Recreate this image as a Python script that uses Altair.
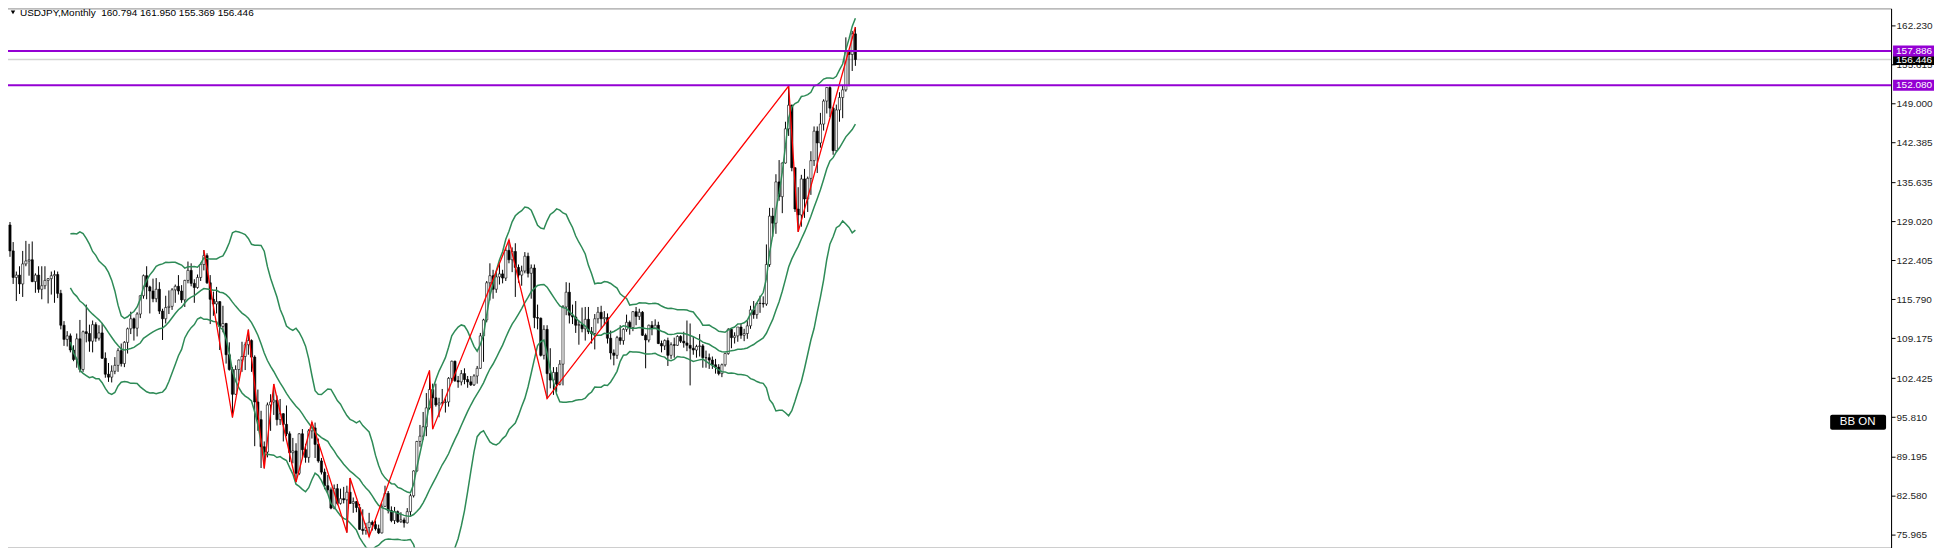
import altair as alt
import pandas as pd

# ---------------- data (USDJPY monthly, May 2002 .. Jul 2024) ----------------
first_open = 128.4

highs = [
    128.9, 125.5, 120.5, 121.4, 124.0, 125.7, 125.2, 125.6,                      # 2002 May-Dec
    120.2, 121.4, 121.4, 121.4, 119.4, 120.5, 120.7, 120.5, 117.4, 112.1, 110.4, 110.0,  # 2003
    108.0, 110.0, 112.3, 110.5, 114.9, 111.5, 112.2, 111.9, 111.4, 111.8, 106.8, 105.0,  # 2004
    104.6, 106.0, 107.5, 108.3, 108.7, 111.0, 113.7, 112.7, 113.6, 116.5, 120.0, 121.4,  # 2005
    118.1, 119.3, 119.4, 118.7, 114.2, 116.4, 117.3, 117.7, 118.3, 119.9, 118.2, 119.1,  # 2006
    122.2, 121.9, 119.2, 120.0, 122.0, 124.14, 123.6, 119.9, 117.1, 117.9, 115.5, 114.7,  # 2007
    111.8, 108.5, 104.3, 104.6, 105.6, 108.6, 108.5, 110.66, 109.0, 106.3, 100.5, 96.9,  # 2008
    91.7, 98.3, 99.7, 101.44, 99.5, 98.9, 96.5, 97.8, 93.4, 92.3, 91.4, 93.1,           # 2009
    93.8, 91.3, 93.8, 94.98, 94.9, 92.2, 88.9, 87.1, 86.0, 83.9, 84.4, 84.5,            # 2010
    83.7, 84.0, 84.2, 85.51, 82.2, 81.6, 81.1, 80.2, 77.9, 79.6, 78.3, 78.3,            # 2011
    77.6, 81.2, 84.2, 83.3, 80.7, 80.6, 80.0, 79.7, 78.8, 80.4, 82.8, 86.8,             # 2012
    91.8, 94.5, 96.7, 99.9, 103.73, 101.5, 101.5, 99.1, 100.6, 99.0, 102.6, 105.4,      # 2013
    105.4, 102.8, 103.8, 104.1, 102.8, 102.8, 103.1, 104.5, 110.1, 112.5, 118.9, 121.9,  # 2014
    120.8, 120.5, 122.0, 120.8, 124.5, 125.86, 124.6, 125.3, 121.7, 121.5, 123.8, 123.7,  # 2015
    121.7, 121.7, 114.9, 112.7, 111.4, 111.4, 107.5, 104.3, 104.3, 105.5, 114.8, 118.7,  # 2016
    118.6, 114.9, 115.5, 112.2, 114.4, 114.5, 114.5, 111.1, 113.3, 114.5, 114.7, 113.8,  # 2017
    113.4, 110.5, 107.3, 109.6, 111.4, 110.9, 113.2, 112.2, 113.8, 114.5, 114.2, 113.8,  # 2018
    110.0, 111.5, 112.1, 112.4, 112.0, 108.8, 109.0, 109.3, 108.5, 109.3, 109.7, 109.7,  # 2019
    110.3, 112.2, 111.7, 109.4, 108.1, 109.9, 108.2, 107.1, 106.6, 106.1, 105.7, 104.8,  # 2020
    104.9, 106.7, 110.9, 110.9, 110.2, 111.1, 111.7, 110.8, 112.1, 114.7, 115.5, 115.2,  # 2021
    116.4, 116.3, 125.1, 131.3, 131.3, 137.0, 139.4, 139.0, 145.9, 151.95, 148.8, 138.2,  # 2022
    134.8, 136.9, 137.9, 136.6, 140.9, 145.1, 145.1, 147.4, 149.7, 151.7, 151.9, 148.4,  # 2023
    148.8, 150.9, 151.97, 160.2, 157.9, 161.3, 161.95,                                  # 2024 Jan-Jul
]

lows = [
    123.0, 118.4, 115.5, 116.7, 116.2, 121.4, 119.8, 118.7,
    116.9, 116.9, 115.8, 117.5, 115.1, 116.6, 115.2, 116.0, 110.7, 107.9, 107.8, 106.8,
    105.3, 104.2, 103.4, 103.5, 108.5, 106.9, 106.8, 108.6, 108.8, 105.7, 102.5, 101.8,
    101.7, 103.1, 103.5, 104.4, 104.3, 106.6, 109.9, 108.8, 109.5, 112.6, 115.9, 115.8,
    113.4, 115.3, 115.3, 113.3, 108.9, 111.7, 113.3, 114.0, 115.2, 116.6, 115.2, 114.5,
    118.5, 118.0, 115.2, 117.6, 118.9, 120.7, 118.4, 111.6, 113.0, 113.4, 107.2, 110.2,
    104.9, 103.7, 95.76, 99.6, 102.0, 103.5, 103.8, 106.4, 103.5, 90.9, 93.5, 87.2,
    87.13, 89.0, 93.5, 96.2, 94.4, 94.5, 91.7, 92.6, 88.2, 88.0, 84.82, 86.0,
    88.9, 88.1, 88.1, 92.2, 88.9, 88.1, 86.1, 83.6, 82.9, 80.2, 80.2, 80.9,
    81.0, 81.2, 76.25, 81.1, 79.6, 79.7, 76.7, 75.9, 75.9, 75.56, 76.6, 76.6,
    76.0, 76.1, 80.6, 79.5, 78.0, 77.7, 77.9, 77.9, 77.1, 77.8, 79.1, 82.2,
    86.5, 90.8, 92.0, 92.6, 97.1, 93.79, 97.6, 95.8, 97.8, 96.6, 97.6, 101.6,
    101.8, 100.8, 101.2, 101.4, 100.8, 101.1, 101.1, 101.5, 104.0, 105.2, 111.9, 115.6,
    115.9, 116.9, 118.3, 118.5, 118.9, 121.9, 120.4, 116.2, 118.6, 118.1, 120.2, 119.5,
    115.9, 110.9, 110.7, 106.1, 105.6, 98.97, 100.7, 99.6, 100.1, 101.2, 101.2, 113.1,
    111.7, 111.6, 110.1, 108.1, 110.2, 108.8, 109.9, 108.3, 107.3, 111.7, 110.8, 111.4,
    108.3, 105.6, 104.6, 105.7, 108.1, 108.1, 110.3, 109.8, 110.4, 111.4, 112.3, 109.6,
    104.1, 108.5, 109.7, 110.8, 108.2, 106.8, 107.2, 104.5, 105.7, 105.9, 107.9, 108.4,
    107.6, 107.0, 101.2, 106.4, 105.9, 106.1, 104.2, 104.2, 104.0, 104.0, 103.2, 102.9,
    102.6, 104.4, 106.4, 107.5, 108.3, 108.6, 109.1, 108.7, 109.1, 110.8, 112.5, 112.5,
    113.5, 114.4, 114.7, 121.3, 126.4, 126.9, 132.5, 130.4, 138.8, 143.5, 137.5, 130.6,
    127.23, 128.1, 129.6, 130.6, 133.5, 138.4, 137.2, 141.5, 144.4, 147.3, 146.7, 140.3,
    140.8, 145.9, 146.5, 151.0, 151.9, 154.5, 155.369,
]

closes = [
    124.0, 119.5, 119.9, 118.4, 121.8, 122.3, 122.5, 118.8,
    119.9, 117.5, 118.1, 119.0, 119.3, 119.8, 120.0, 116.8, 111.4, 109.0, 109.6, 107.2,
    105.6, 109.1, 103.9, 110.3, 110.0, 108.7, 111.5, 109.2, 110.1, 105.8, 103.1, 102.6,
    103.6, 104.6, 107.1, 104.9, 108.5, 110.8, 112.5, 110.9, 113.3, 116.4, 119.8, 117.9,
    117.2, 115.9, 117.5, 113.8, 112.5, 114.4, 114.6, 117.4, 118.0, 117.2, 115.7, 119.0,
    120.7, 118.5, 117.8, 119.5, 121.7, 123.2, 118.6, 115.8, 115.0, 115.4, 111.2, 111.7,
    106.4, 103.9, 99.7, 103.9, 105.5, 106.1, 108.1, 108.8, 106.0, 98.4, 95.4, 90.8,
    89.9, 97.9, 98.4, 98.7, 95.4, 96.4, 94.6, 93.0, 89.8, 90.1, 86.3, 93.0,
    90.3, 89.0, 93.5, 94.0, 91.2, 88.4, 86.5, 84.2, 83.5, 80.4, 83.7, 81.2,
    82.0, 81.8, 83.1, 81.2, 81.5, 80.5, 76.8, 76.6, 77.1, 78.0, 77.6, 76.9,
    76.2, 80.7, 82.9, 80.0, 78.3, 79.8, 78.1, 78.4, 77.9, 79.8, 82.5, 86.7,
    91.7, 92.6, 94.2, 97.4, 100.5, 99.1, 97.9, 98.2, 98.3, 98.4, 102.4, 105.3,
    102.0, 101.8, 103.2, 102.2, 101.8, 101.3, 102.8, 104.1, 109.6, 112.3, 118.6, 119.8,
    117.5, 119.6, 120.1, 119.4, 124.1, 122.5, 123.9, 121.2, 119.9, 120.6, 123.1, 120.2,
    121.1, 112.7, 112.6, 106.3, 110.7, 103.2, 102.1, 103.4, 101.4, 104.8, 114.5, 117.0,
    113.1, 112.8, 111.4, 111.5, 110.8, 112.4, 110.3, 110.0, 112.5, 113.6, 112.5, 112.7,
    109.2, 106.7, 106.3, 109.3, 108.8, 110.7, 111.9, 111.0, 113.7, 112.9, 113.6, 109.7,
    108.9, 111.4, 110.9, 111.4, 108.3, 107.9, 108.8, 106.3, 108.1, 108.0, 109.5, 108.7,
    108.4, 108.0, 107.5, 107.2, 107.8, 107.9, 105.9, 105.9, 105.5, 104.7, 104.3, 103.2,
    104.7, 106.6, 110.7, 109.3, 109.6, 111.1, 109.7, 110.0, 111.3, 114.0, 113.2, 115.1,
    115.1, 115.0, 121.7, 129.9, 128.7, 135.7, 133.2, 138.9, 144.7, 148.7, 138.1, 131.1,
    130.1, 136.2, 132.8, 136.3, 139.3, 144.3, 142.3, 145.5, 149.4, 151.7, 148.2, 141.0,
    147.9, 150.0, 151.3, 157.8, 157.3, 160.794, 156.446,
]

# zigzag turning points (bar index from May 2002, price)
zz_idx = [61, 70, 75, 80, 83, 90, 95, 106, 107, 113, 132, 133, 157, 169, 245, 248, 266]
zz_price = [124.14, 95.76, 110.66, 87.13, 101.44, 84.82, 94.98, 76.25, 85.51, 75.56,
            103.73, 93.79, 125.86, 98.97, 151.95, 127.23, 161.95]

level_prices = [157.886, 152.080]
level_labels = ["157.886", "152.080"]
current_price = 156.446
current_label = "156.446"

tick_values = [162.230, 155.615, 149.000, 142.385, 135.635, 129.020, 122.405,
               115.790, 109.175, 102.425, 95.810, 89.195, 82.580, 75.965]

header_text = "USDJPY,Monthly\u00a0\u00a0160.794 161.950 155.369 156.446"
badge_text = "BB ON"

# ---------------- build tables ----------------
opens = [first_open] + closes[:-1]
bars = pd.DataFrame({
    "i": list(range(len(closes))),
    "o": opens, "h": highs, "l": lows, "c": closes,
})
zz = pd.DataFrame({"i": zz_idx, "p": zz_price})
levels = pd.DataFrame({"p": level_prices, "t": level_labels})
cur = pd.DataFrame({"p": [current_price], "t": [current_label]})
one = pd.DataFrame({"k": [0]})

W, H = 1891, 540
FONT = "Liberation Sans"

xs = alt.Scale(domain=[-0.625, 590.3], nice=False, zero=False)
ys = alt.Scale(domain=[73.71, 165.107], nice=False, zero=False)
yaxis = alt.Axis(orient="right", values=tick_values, format=".3f", title=None,
                 grid=False, labelFont=FONT, labelFontSize=10, labelColor="#1e1e1e",
                 tickColor="#000000", tickSize=4, domainColor="#000000",
                 labelPadding=1, labelOverlap=False, labelFlush=False,
                 labelBound=False, zindex=0)


def X(f="i"):
    return alt.X(f + ":Q", scale=xs, axis=None)


def Y(f):
    return alt.Y(f + ":Q", scale=ys, axis=yaxis)


base = alt.Chart(bars)

wicks = base.mark_rule(color="#000000", strokeWidth=1).encode(
    x=X(), y=Y("l"), y2="h:Q")

bodies = base.mark_bar(size=2.2, stroke="#000000", strokeWidth=0.6).encode(
    x=X(), y=Y("o"), y2="c:Q",
    fill=alt.condition("datum.c >= datum.o", alt.value("#ffffff"), alt.value("#000000")))

bands = base.transform_window(
    ma="mean(c)", sd="stdevp(c)", n="count()", frame=[-19, 0],
    sort=[alt.SortField("i")]
).transform_filter("datum.n >= 20").transform_calculate(
    up="datum.ma + 2*datum.sd", lo="datum.ma - 2*datum.sd"
).transform_fold(["ma", "up", "lo"], as_=["band", "v"]).mark_line(
    color="#2e8b57", strokeWidth=1.5, clip=True
).encode(x=X(), y=Y("v"), detail="band:N", order="i:Q")

zigzag = alt.Chart(zz).mark_line(color="#ff0000", strokeWidth=1.3).encode(
    x=X(), y=Y("p"), order="i:Q")

cur_line = alt.Chart(cur).mark_rule(color="#d2d2d2", strokeWidth=1.5).encode(y=Y("p"))
lvl_lines = alt.Chart(levels).mark_rule(color="#9400d3", strokeWidth=2).encode(y=Y("p"))

box_y = dict(y=Y("top"), y2="bot:Q")
cur_box = alt.Chart(cur).transform_calculate(
    top="datum.p + 0.93", bot="datum.p - 0.93"
).mark_rect(color="#000000").encode(x=alt.value(W + 2), x2=alt.value(W + 43), **box_y)
cur_txt = alt.Chart(cur).mark_text(align="left", baseline="middle", font=FONT,
                                   fontSize=10, color="#ffffff").encode(
    x=alt.value(W + 5), y=Y("p"), text="t:N")
lvl_box = alt.Chart(levels).transform_calculate(
    top="datum.p + 0.93", bot="datum.p - 0.93"
).mark_rect(color="#9400d3").encode(x=alt.value(W + 2), x2=alt.value(W + 43), **box_y)
lvl_txt = alt.Chart(levels).mark_text(align="left", baseline="middle", font=FONT,
                                      fontSize=10, color="#ffffff").encode(
    x=alt.value(W + 5), y=Y("p"), text="t:N")

tri = alt.Chart(one).mark_point(shape="triangle-down", filled=True, size=20,
                                color="#000000", opacity=1).encode(
    x=alt.value(10), y=alt.value(4))
header = alt.Chart(one).mark_text(align="left", baseline="alphabetic", font=FONT,
                                  fontSize=10, color="#000000").encode(
    x=alt.value(17), y=alt.value(8), text=alt.value(header_text))

badge = alt.Chart(one).mark_rect(color="#000000", cornerRadius=2).encode(
    x=alt.value(1830), x2=alt.value(1886), y=alt.value(407), y2=alt.value(422))
badge_txt = alt.Chart(one).mark_text(align="center", baseline="middle", font=FONT,
                                     fontSize=11.5, color="#ffffff").encode(
    x=alt.value(1857.5), y=alt.value(414.5), text=alt.value(badge_text))

chart = alt.layer(
    cur_line, wicks, bodies, bands, zigzag, lvl_lines,
    cur_box, cur_txt, lvl_box, lvl_txt, tri, header, badge, badge_txt
).properties(
    width=W, height=H,
    padding={"left": -6, "top": 0, "right": 0, "bottom": 0},
    background="#ffffff",
).configure_view(stroke="#8c8c8c", strokeWidth=1)

chart.save("out.html", embed_options={"renderer": "svg", "actions": False})
